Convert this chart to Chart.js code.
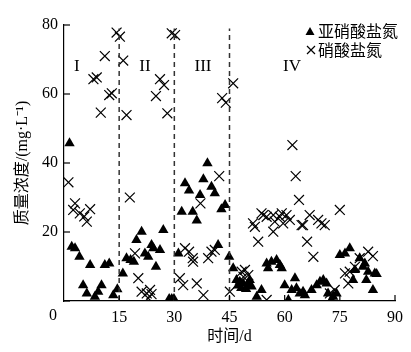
<!DOCTYPE html>
<html>
<head>
<meta charset="utf-8">
<script src="https://cdn.jsdelivr.net/npm/chart.js@4"></script>
<style>
  html, body { margin: 0; padding: 0; background: #fff; }
</style>
</head>
<body>
<canvas id="chart" width="411" height="352"></canvas>
<script>
// 亚硝酸盐氮 (triangles)
const nitriteDays = [1.5, 2.1, 3.0, 4.2, 7.1, 11.1, 12.3, 5.2, 6.2, 8.4, 9.3, 10.2, 13.4, 14.5,
  16, 17, 18.1, 19, 19.7, 21.1, 22.0, 22.9, 23.8, 24.3, 26.1, 27.0, 25.0, 28.6, 29.3, 29.9,
  31.1, 32, 32.9, 34, 35, 36.1, 37, 37.9, 39, 40.1, 41, 42.8, 43.8, 41.9, 44.9,
  46, 46.9, 47.8, 48.7, 50.1, 50.5, 47.3, 48.2, 49.5, 51, 52.4, 53.7,
  55.1, 56.4, 57.8, 58.7, 55.5, 59.2, 60, 61.9, 62.8, 63.2, 64.1, 65, 65.5, 61,
  67.3, 68.7, 69.6, 70.5, 71.4, 71.8, 73.2, 74.1, 72.7,
  75, 76.4, 77.7, 78.6, 79.1, 80.4, 81.3, 81.8, 82.2, 82.7, 84, 84.5, 85];
const nitriteValues = [45.7, 15.7, 15.3, 12.8, 10.4, 10.4, 10.9, 4.6, 2.2, 1.2, 2.7, 4.6, 1.7, 3.4,
  8, 12.4, 11.9, 11.4, 17.7, 20.1, 13.8, 12.8, 16.2, 15.3, 14.8, 20.6, 9.9, 0.6, 0.6, 0.6,
  13.8, 25.9, 34.1, 32, 25.9, 23.3, 30.7, 35.3, 39.9, 33.1, 31.2, 26.6, 27.8, 16.2, 12.8,
  9.5, 6.1, 5.6, 5.1, 4.6, 6.1, 4.5, 3.8, 3.5, 4.2, 1.2, 3.2,
  10.9, 11.4, 11.9, 10.4, 9.5, 9.5, 4.6, 3.2, 6.6, 3.7, 2.2, 2.7, 1.7, 0.3,
  3.2, 4.6, 5.6, 6.1, 5.1, 2.2, 1.2, 2.2, 0.3,
  13.3, 13.8, 15.3, 6.1, 9, 12.4, 9.9, 10.9, 6.1, 8.5, 3.2, 8, 7.8];

// 硝酸盐氮 (crosses)
const nitrateDays = [1.2, 3, 2.5, 4.3, 5.5, 6.2, 7.1, 8.0, 8.9, 10, 11.1, 12.3, 13, 14.3, 15.2, 16.1, 17,
  17.9, 19.3, 20.2, 21.1, 22.5, 23.4, 23.8, 22.9, 25, 26.1, 27.2, 28.1, 29.3, 30.2,
  31.5, 32.4, 32.9, 34, 35, 35.1, 36.1, 37.1, 37.9, 39.2, 40.1, 41, 42.2, 43, 44, 45.1, 46,
  48.3, 49.2, 50.1, 48.8, 51.4, 51.9, 52.8, 53.7, 54.2, 55.1, 55.1, 56.9, 57.3, 56.9, 58.7, 59.2,
  59.6, 60.5, 61.4, 62.1, 63, 63.9, 64.6, 65, 66.1, 66.8, 67.8, 69.1, 70, 70.9, 72.3, 73.6,
  75, 76.4, 77.3, 77.7, 79.1, 80.4, 82.7, 84];
const nitrateValues = [34.4, 28.3, 26.4, 25.4, 24.5, 23, 26.6, 64.3, 64.8, 54.6, 71, 59.7, 60.2, 77.8, 76.6, 69.7, 53.9,
  30, 13.8, 6.6, 2.7, 2.2, 3.2, 2, 0.8, 59.4, 64.3, 62.6, 54.4, 77.6, 77.1,
  6.6, 4.6, 15.3, 14.3, 12.4, 11.4, 5.1, 28.3, 1.7, 12.4, 14.3, 14.8, 36.2, 58.8, 57.5, 2.7, 63.1,
  8.5, 9, 7.5, 7, 22.5, 21.5, 17.2, 25.4, 24.9, 24.4, 0.3, 24.9, 23, 20.1, 24.4, 25.4,
  22.5, 24.9, 23.5, 45.2, 36.2, 29.3, 22, 22, 17.2, 24.9, 12.8, 23.5, 22.5, 22, 2.2, 3.2,
  26.4, 8, 5.1, 8.5, 9.9, 12.4, 14.3, 13];

const stageBounds = [15, 30, 45];
const stageLabels = ['I', 'II', 'III', 'IV'];
const stageLabelDays = [3.5, 22, 37.8, 62];
const stageLabelLevel = 68;
const yTicks = [0, 20, 40, 60, 80];
const xTicks = [15, 30, 45, 60, 75, 90];
const seriesNames = ['亚硝酸盐氮', '硝酸盐氮'];

const toPoints = (xs, ys) => xs.map((x, i) => ({ x: x, y: ys[i] }));

const serif = "'Liberation Serif', 'Noto Sans CJK SC', serif";

const extras = {
  id: 'extras',
  afterDraw(chart) {
    const ctx = chart.ctx;
    const xs = chart.scales.x;
    const ys = chart.scales.y;
    ctx.save();
    // dashed stage lines
    ctx.strokeStyle = '#333';
    ctx.lineWidth = 1.5;
    ctx.setLineDash([5, 4]);
    stageBounds.forEach(d => {
      const px = xs.getPixelForValue(d);
      ctx.beginPath();
      ctx.moveTo(px, ys.getPixelForValue(0));
      ctx.lineTo(px, ys.getPixelForValue(79));
      ctx.stroke();
    });
    ctx.setLineDash([]);
    // inward tick marks
    ctx.strokeStyle = '#000';
    ctx.lineWidth = 1.2;
    yTicks.forEach(v => {
      const py = ys.getPixelForValue(v);
      ctx.beginPath();
      ctx.moveTo(xs.left, py);
      ctx.lineTo(xs.left + 6, py);
      ctx.stroke();
    });
    xTicks.forEach(v => {
      const px = xs.getPixelForValue(v);
      ctx.beginPath();
      ctx.moveTo(px, ys.bottom);
      ctx.lineTo(px, ys.bottom - 6);
      ctx.stroke();
    });
    // stage labels
    ctx.fillStyle = '#000';
    ctx.font = '17px ' + serif;
    ctx.textAlign = 'center';
    ctx.textBaseline = 'middle';
    stageLabels.forEach((t, i) => {
      ctx.fillText(t, xs.getPixelForValue(stageLabelDays[i]), ys.getPixelForValue(stageLabelLevel));
    });
    // origin label
    ctx.font = '16px ' + serif;
    ctx.fillText('0', xs.left - 11, ys.bottom + 15);
    // legend
    ctx.textAlign = 'left';
    ctx.font = "16px 'Noto Sans CJK SC', sans-serif";
    ctx.beginPath();
    ctx.moveTo(310, 27);
    ctx.lineTo(314.5, 35);
    ctx.lineTo(305.5, 35);
    ctx.closePath();
    ctx.fill();
    ctx.fillText(seriesNames[0], 318, 31);
    ctx.beginPath();
    ctx.moveTo(307, 46);
    ctx.lineTo(315, 54);
    ctx.moveTo(315, 46);
    ctx.lineTo(307, 54);
    ctx.stroke();
    ctx.fillText(seriesNames[1], 318, 50);
    ctx.restore();
  }
};

new Chart(document.getElementById('chart'), {
  type: 'scatter',
  data: {
    datasets: [{
      label: seriesNames[0],
      data: toPoints(nitriteDays, nitriteValues),
      pointStyle: 'triangle',
      pointRadius: 6,
      backgroundColor: '#000',
      borderColor: '#000',
      borderWidth: 0,
    }, {
      label: seriesNames[1],
      data: toPoints(nitrateDays, nitrateValues),
      pointStyle: 'crossRot',
      pointRadius: 7,
      borderColor: '#000',
      borderWidth: 1.2,
    }],
  },
  options: {
    responsive: false,
    animation: false,
    layout: { padding: { top: 25, right: 16, left: 0, bottom: 0 } },
    plugins: {
      legend: { display: false },
      tooltip: { enabled: false },
    },
    scales: {
      x: {
        type: 'linear',
        min: 0,
        max: 90,
        grid: { display: false, drawTicks: false },
        border: { display: true, color: '#000', width: 1.2 },
        ticks: {
          stepSize: 15,
          padding: 7,
          color: '#000',
          font: { family: serif, size: 16 },
          callback: v => (v === 0 ? '' : v),
        },
        title: {
          display: true,
          text: '时间/d',
          color: '#000',
          font: { family: serif, size: 16 },
          padding: { top: 0, bottom: 6 },
        },
        afterFit: s => { s.height = 51; },
      },
      y: {
        min: 0,
        max: 80,
        grid: { display: false, drawTicks: false },
        border: { display: true, color: '#000', width: 1.2 },
        ticks: {
          stepSize: 20,
          padding: 6,
          color: '#000',
          font: { family: serif, size: 16 },
          callback: v => (v === 0 ? '' : v),
        },
        title: {
          display: true,
          text: '质量浓度/(mg·L⁻¹)',
          color: '#000',
          font: { family: serif, size: 16 },
          padding: { top: 13, bottom: 0 },
        },
        afterFit: s => { s.width = 64; },
      },
    },
  },
  plugins: [extras],
});
</script>
</body>
</html>
